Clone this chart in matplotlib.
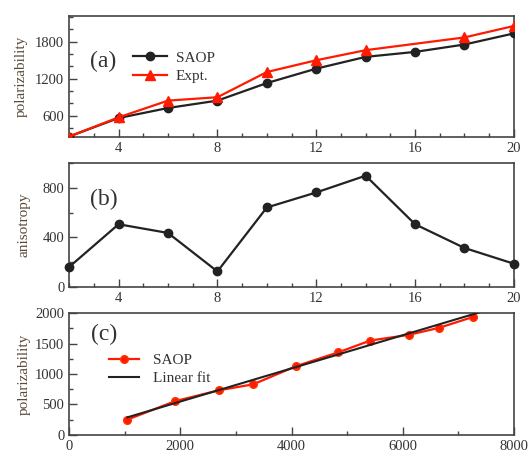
import numpy as np
import matplotlib
matplotlib.use('Agg')
import matplotlib.pyplot as plt
from matplotlib.ticker import MultipleLocator

plt.rcParams['font.family'] = ['Liberation Serif', 'DejaVu Serif']

# panel (a): polarizability vs n
n_vals = [2, 4, 6, 8, 10, 12, 14, 16, 18, 20]
saop_pol = [262, 562, 725, 845, 1130, 1364, 1555, 1636, 1756, 1936]
expt_n = [2, 4, 6, 8, 10, 12, 14, 18, 20]
expt_pol = [262, 573, 845, 900, 1309, 1500, 1664, 1871, 2057]

# panel (b): anisotropy vs n
saop_aniso = [162, 506, 436, 126, 641, 762, 897, 506, 315, 188]

# panel (c): polarizability vs x, with linear fit
c_x = [1048, 1907, 2694, 3311, 4086, 4843, 5418, 6114, 6659, 7264]
c_pol = [252, 555, 733, 831, 1130, 1356, 1549, 1643, 1759, 1936]
fit_x = [1050, 7400]
fit_y = [290, 2017]

txt = '#333333'
spine = '#444444'
lab = '#5a4a3a'

fig = plt.figure(figsize=(5.32, 4.55), dpi=100)
axa = fig.add_axes([0.130, 0.699, 0.836, 0.266])
axb = fig.add_axes([0.130, 0.369, 0.836, 0.273])
axc = fig.add_axes([0.130, 0.044, 0.836, 0.268])

def style(ax):
    for s in ax.spines.values():
        s.set_color(spine)
        s.set_linewidth(1.2)
    ax.tick_params(which='both', direction='in', top=False, right=False,
                   color=spine, labelcolor=txt, labelsize=10.5, width=1.0)
    ax.tick_params(which='major', length=6)
    ax.tick_params(which='minor', length=3)

# (a)
axa.plot(n_vals, saop_pol, '-o', color='#222222', lw=1.6, ms=6, label='SAOP', zorder=3)
axa.plot(expt_n, expt_pol, '-^', color='#ff1a00', lw=1.6, ms=6.5, label='Expt.', zorder=4)
axa.set_xlim(2, 20)
axa.set_ylim(255, 2220)
axa.set_xticks([4, 8, 12, 16, 20])
axa.xaxis.set_minor_locator(MultipleLocator(1))
axa.set_yticks([600, 1200, 1800])
axa.yaxis.set_minor_locator(MultipleLocator(200))
axa.set_ylabel('polarizability', fontsize=11, color=lab, labelpad=5)
axa.text(0.046, 0.575, '(a)', transform=axa.transAxes, fontsize=17, color=txt)
axa.legend(loc='upper left', bbox_to_anchor=(0.13, 0.76), frameon=False,
           fontsize=11, handlelength=2.2, handletextpad=0.6, labelspacing=0.3,
           borderaxespad=0, labelcolor=txt)
style(axa)

# (b)
axb.plot(n_vals, saop_aniso, '-o', color='#222222', lw=1.6, ms=6, clip_on=False, zorder=3)
axb.set_xlim(2, 20)
axb.set_ylim(0, 1000)
axb.set_xticks([4, 8, 12, 16, 20])
axb.xaxis.set_minor_locator(MultipleLocator(1))
axb.set_yticks([0, 400, 800])
axb.yaxis.set_minor_locator(MultipleLocator(200))
axb.set_ylabel('anisotropy', fontsize=11, color=lab, labelpad=9)
axb.text(0.046, 0.66, '(b)', transform=axb.transAxes, fontsize=17, color=txt)
style(axb)

# (c)
axc.plot(c_x, c_pol, '-o', color='#ff1a00', mec='#ff3300', lw=1.6, ms=5.5, label='SAOP', zorder=3)
axc.plot(fit_x, fit_y, '-', color='#222222', lw=1.5, label='Linear fit', zorder=4)
axc.set_xlim(0, 8000)
axc.set_ylim(0, 2000)
axc.xaxis.set_major_locator(MultipleLocator(2000))
axc.xaxis.set_minor_locator(MultipleLocator(1000))
axc.yaxis.set_major_locator(MultipleLocator(500))
axc.yaxis.set_minor_locator(MultipleLocator(250))
axc.set_ylabel('polarizability', fontsize=11, color=lab, labelpad=3)
axc.text(0.05, 0.78, '(c)', transform=axc.transAxes, fontsize=17, color=txt)
axc.legend(loc='upper left', bbox_to_anchor=(0.075, 0.72), frameon=False,
           fontsize=11, handlelength=2.0, handletextpad=0.9, labelspacing=0.3,
           borderaxespad=0, labelcolor=txt)
style(axc)

fig.savefig('out.png', dpi=100, facecolor='white')
